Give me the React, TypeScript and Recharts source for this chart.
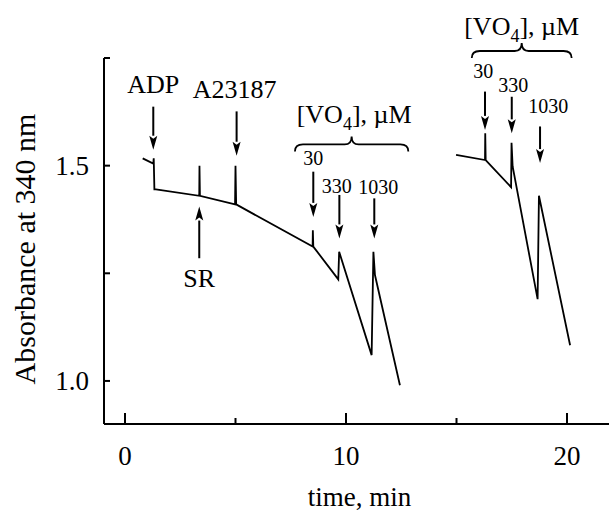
import { LineChart, Line, XAxis, YAxis, ReferenceLine, ReferenceDot } from "recharts";

// trace before the break (min, absorbance)
const time1 = [0.8, 1.28, 1.3, 1.33, 1.4, 3.36, 3.37, 3.39, 4.98, 5.0, 5.03, 8.49, 8.5, 8.52, 9.65, 9.69, 11.16, 11.24, 11.31, 12.44];
const abs1 = [1.517, 1.505, 1.517, 1.445, 1.445, 1.43, 1.5, 1.43, 1.41, 1.5, 1.41, 1.312, 1.35, 1.312, 1.236, 1.3, 1.06, 1.3, 1.246, 0.99];

// trace after the break
const time2 = [14.98, 16.29, 16.3, 16.32, 17.47, 17.49, 17.54, 18.67, 18.73, 20.14];
const abs2 = [1.525, 1.513, 1.575, 1.513, 1.45, 1.553, 1.498, 1.19, 1.43, 1.083];

const xTicks = [0, 5, 10, 15, 20];
const xLabeled = [0, 10, 20];
const yTicks = [1.0, 1.25, 1.5, 1.75];
const yLabeled = [1.0, 1.5];

// arrows: x, start, tip (data units)
const arrows = [
  { x: 1.28, from: 1.637, to: 1.537 },
  { x: 5.05, from: 1.626, to: 1.523 },
  { x: 3.36, from: 1.285, to: 1.405 },
  { x: 8.52, from: 1.486, to: 1.381 },
  { x: 9.7, from: 1.432, to: 1.331 },
  { x: 11.28, from: 1.424, to: 1.331 },
  { x: 16.29, from: 1.672, to: 1.583 },
  { x: 17.5, from: 1.66, to: 1.575 },
  { x: 18.78, from: 1.591, to: 1.506 },
];

const labels = [
  { text: "ADP", x: 1.28, y: 1.669, big: true },
  { text: "A23187", x: 4.96, y: 1.657, big: true },
  { text: "SR", x: 3.36, y: 1.219, big: true },
  { text: "30", x: 8.52, y: 1.502, big: false },
  { text: "330", x: 9.58, y: 1.436, big: false },
  { text: "1030", x: 11.46, y: 1.434, big: false },
  { text: "30", x: 16.21, y: 1.703, big: false },
  { text: "330", x: 17.57, y: 1.672, big: false },
  { text: "1030", x: 19.15, y: 1.622, big: false },
];

const groups = [
  { x1: 7.69, x2: 12.82, y: 1.533, tx: 10.37, ty: 1.599 },
  { x1: 15.69, x2: 20.21, y: 1.75, tx: 17.95, ty: 1.804 },
];

const trace1 = time1.map((t, i) => ({ t, a: abs1[i] }));
const trace2 = time2.map((t, i) => ({ t, a: abs2[i] }));

const FONT = '"Liberation Serif", "Times New Roman", serif';

const XTick = (props: any) => {
  const { x, y, payload } = props;
  const major = xLabeled.includes(payload.value);
  return (
    <g>
      <line x1={x} y1={y} x2={x} y2={y - (major ? 11 : 6)} stroke="#000" strokeWidth={2} />
      {major && (
        <text x={x} y={y + 41} textAnchor="middle" fontFamily={FONT} fontSize={27} fill="#000">
          {payload.value}
        </text>
      )}
    </g>
  );
};

const YTick = (props: any) => {
  const { x, y, payload } = props;
  const major = yLabeled.includes(payload.value);
  return (
    <g>
      <line x1={x} y1={y} x2={x + 6} y2={y} stroke="#000" strokeWidth={2} />
      {major && (
        <text x={x - 15} y={y + 9} textAnchor="end" fontFamily={FONT} fontSize={27} fill="#000">
          {payload.value.toFixed(1)}
        </text>
      )}
    </g>
  );
};

const Arrow = (props: any) => {
  const { x1, y1, x2, y2 } = props;
  const dir = y2 > y1 ? 1 : -1;
  const base = y2 - dir * 14;
  return (
    <g>
      <line x1={x1} y1={y1} x2={x2} y2={base} stroke="#000" strokeWidth={2} />
      <path d={`M${x2},${y2} L${x2 - 4},${base} L${x2},${base + dir * 3} L${x2 + 4},${base} Z`} fill="#000" />
    </g>
  );
};

const Brace = (props: any) => {
  const { x1, y1, x2 } = props;
  const mid = (x1 + x2) / 2;
  const h = y1 - 7;
  const d = `M${x1},${y1} Q${x1},${h} ${x1 + 8},${h} L${mid - 7},${h} Q${mid},${h} ${mid},${h - 8} Q${mid},${h} ${mid + 7},${h} L${x2 - 8},${h} Q${x2},${h} ${x2},${y1}`;
  return <path d={d} fill="none" stroke="#000" strokeWidth={1.8} />;
};

const makeText = (text: string, big: boolean) => (props: any) => (
  <text x={props.cx} y={props.cy} textAnchor="middle" fontFamily={FONT} fontSize={big ? 26 : 20} fill="#000">
    {text}
  </text>
);

const GroupText = (props: any) => (
  <text x={props.cx} y={props.cy} textAnchor="middle" fontFamily={FONT} fontSize={26} fill="#000">
    [VO
    <tspan fontSize={18} dy={7}>4</tspan>
    <tspan dy={-7}>], µM</tspan>
  </text>
);

export default function App() {
  return (
    <div style={{ position: "absolute", left: 0, top: 0, background: "#fff" }}>
      <LineChart width={609} height={515} margin={{ top: 58, right: 0, bottom: 0, left: 0 }}>
        <XAxis
          dataKey="t"
          type="number"
          domain={[-0.95, 21.9]}
          ticks={xTicks}
          interval={0}
          height={91}
          tickSize={0}
          tickMargin={0}
          tickLine={false}
          tick={<XTick />}
          axisLine={{ stroke: "#000", strokeWidth: 2 }}
          allowDataOverflow
          label={{
            content: (p: any) => (
              <text x={p.viewBox.x + p.viewBox.width / 2 + 3} y={p.viewBox.y + 82} textAnchor="middle" fontFamily={FONT} fontSize={27} fill="#000">
                time, min
              </text>
            ),
          }}
        />
        <YAxis
          dataKey="a"
          type="number"
          domain={[0.9, 1.75]}
          ticks={yTicks}
          interval={0}
          width={104}
          tickSize={0}
          tickMargin={0}
          tickLine={false}
          tick={<YTick />}
          axisLine={{ stroke: "#000", strokeWidth: 2 }}
          allowDataOverflow
          label={{
            content: (p: any) => (
              <text
                transform={`translate(35, ${p.viewBox.y + p.viewBox.height / 2 + 8}) rotate(-90)`}
                textAnchor="middle"
                fontFamily={FONT}
                fontSize={30}
                fill="#000"
              >
                Absorbance at 340 nm
              </text>
            ),
          }}
        />
        <Line data={trace1} dataKey="a" type="linear" stroke="#000" strokeWidth={1.8} dot={false} isAnimationActive={false} />
        <Line data={trace2} dataKey="a" type="linear" stroke="#000" strokeWidth={1.8} dot={false} isAnimationActive={false} />
        {arrows.map((a, i) => (
          <ReferenceLine
            key={`ar${i}`}
            segment={[{ x: a.x, y: a.from }, { x: a.x, y: a.to }]}
            ifOverflow="visible"
            shape={<Arrow />}
          />
        ))}
        {groups.map((g, i) => (
          <ReferenceLine
            key={`br${i}`}
            segment={[{ x: g.x1, y: g.y }, { x: g.x2, y: g.y }]}
            ifOverflow="visible"
            shape={<Brace />}
          />
        ))}
        {groups.map((g, i) => (
          <ReferenceDot key={`gt${i}`} x={g.tx} y={g.ty} r={1} ifOverflow="visible" shape={<GroupText />} />
        ))}
        {labels.map((l, i) => (
          <ReferenceDot key={`lb${i}`} x={l.x} y={l.y} r={1} ifOverflow="visible" shape={makeText(l.text, l.big)} />
        ))}
      </LineChart>
    </div>
  );
}
